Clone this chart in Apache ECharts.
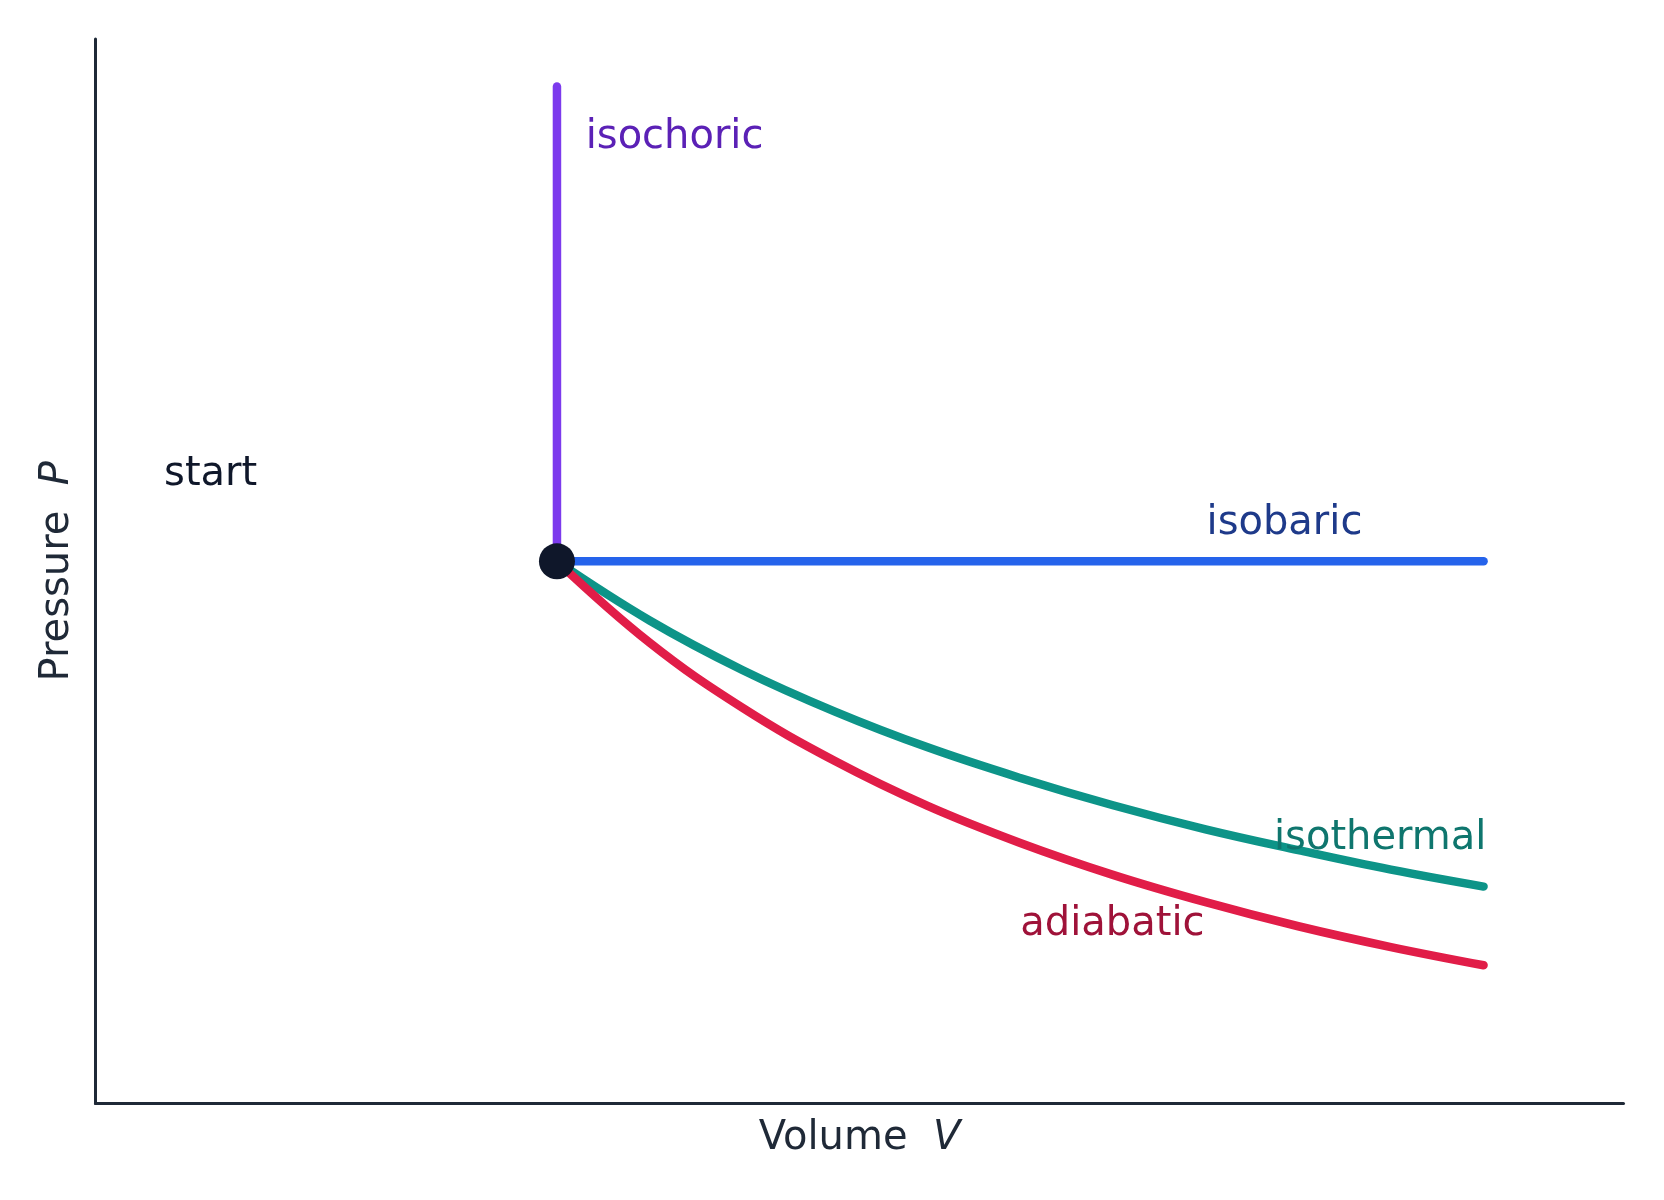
<!DOCTYPE html>
<html>
<head>
<meta charset="utf-8">
<script src="https://cdn.jsdelivr.net/npm/echarts@6/dist/echarts.min.js"></script>
<style>
  html, body { margin: 0; padding: 0; background: #ffffff; }
  #chart { width: 1664px; height: 1200px; }
</style>
</head>
<body>
<div id="chart"></div>
<script>
// state variables (arbitrary units)
const startV = 1.0
const startP = 1.0
const volumes = [1.0, 1.1, 1.2, 1.3, 1.4, 1.5, 1.6, 1.7, 1.8, 1.9, 2.0]
const isothermalP = [1.0, 0.909, 0.833, 0.769, 0.714, 0.667, 0.625, 0.588, 0.556, 0.526, 0.5]
const adiabaticP = [1.0, 0.875, 0.775, 0.693, 0.624, 0.567, 0.518, 0.476, 0.439, 0.407, 0.379]
const isochoricV = [1.0, 1.0]
const isochoricP = [1.0, 1.73]
const isobaricV = [1.0, 2.0]
const isobaricP = [1.0, 1.0]

// label anchors in data coordinates
const labels = [
  { text: 'start', v: 0.576, p: 1.134, align: 'left', color: '#0f172a' },
  { text: 'isochoric', v: 1.031, p: 1.651, align: 'left', color: '#5b21b6' },
  { text: 'isobaric', v: 1.701, p: 1.058, align: 'left', color: '#1e3a8a' },
  { text: 'isothermal', v: 2.003, p: 0.573, align: 'right', color: '#0f766e' },
  { text: 'adiabatic', v: 1.500, p: 0.441, align: 'left', color: '#9f1239' }
]

const FONT = '"DejaVu Sans", sans-serif'
const AXIS_COLOR = '#1f2937'

function pairs(xs, ys) {
  return xs.map((x, i) => [x, ys[i]])
}

function lineSeries(name, data, color) {
  return {
    name: name,
    type: 'line',
    data: data,
    smooth: 0.4,
    showSymbol: false,
    silent: true,
    lineStyle: { color: color, width: 8.5, cap: 'round', join: 'round' }
  }
}

const chart = echarts.init(document.getElementById('chart'))
const option = {
  animation: false,
  backgroundColor: '#ffffff',
  grid: { left: 95.5, top: 39, right: 40.5, bottom: 96.5 },
  xAxis: {
    type: 'value',
    min: 0.502,
    max: 2.151,
    splitLine: { show: false },
    axisTick: { show: false },
    axisLabel: { show: false },
    axisLine: { lineStyle: { color: AXIS_COLOR, width: 3 } },
    name: '{a|Volume  }{b|V}',
    nameLocation: 'middle',
    nameGap: 15,
    nameTextStyle: {
      verticalAlign: 'top',
      rich: {
        a: { fontFamily: FONT, fontSize: 40, color: AXIS_COLOR },
        b: { fontFamily: FONT, fontSize: 40, color: AXIS_COLOR, fontStyle: 'italic' }
      }
    }
  },
  yAxis: {
    type: 'value',
    min: 0.1665,
    max: 1.803,
    splitLine: { show: false },
    axisTick: { show: false },
    axisLabel: { show: false },
    axisLine: { lineStyle: { color: AXIS_COLOR, width: 3 } },
    name: '{a|Pressure  }{b|P}',
    nameLocation: 'middle',
    nameRotate: 90,
    nameGap: 18,
    nameTextStyle: {
      rich: {
        a: { fontFamily: FONT, fontSize: 40, color: AXIS_COLOR },
        b: { fontFamily: FONT, fontSize: 40, color: AXIS_COLOR, fontStyle: 'italic' }
      }
    }
  },
  series: [
    lineSeries('isochoric', pairs(isochoricV, isochoricP), '#7c3aed'),
    lineSeries('isobaric', pairs(isobaricV, isobaricP), '#2563eb'),
    lineSeries('isothermal', pairs(volumes, isothermalP), '#0d9488'),
    lineSeries('adiabatic', pairs(volumes, adiabaticP), '#e11d48'),
    {
      name: 'start',
      type: 'scatter',
      data: [[startV, startP]],
      symbolSize: 36,
      itemStyle: { color: '#0f172a', opacity: 1 },
      z: 10,
      silent: true
    }
  ]
}
chart.setOption(option)

// annotation texts placed from data coordinates
chart.setOption({
  graphic: labels.map(l => {
    const pt = chart.convertToPixel({ gridIndex: 0 }, [l.v, l.p])
    return {
      type: 'text',
      x: pt[0],
      y: pt[1],
      z: 20,
      style: {
        text: l.text,
        fill: l.color,
        font: '40px ' + FONT,
        align: l.align,
        verticalAlign: 'middle'
      }
    }
  })
})
</script>
</body>
</html>
